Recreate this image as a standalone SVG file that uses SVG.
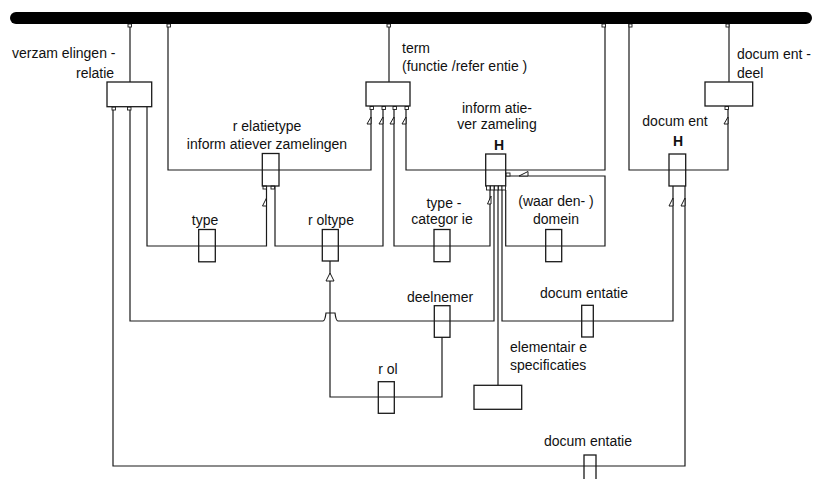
<svg xmlns="http://www.w3.org/2000/svg" width="814" height="479" viewBox="0 0 814 479">
<style>
.ln{fill:none;stroke:#1a1a1a;stroke-width:1.2}
.bx{fill:#fff;stroke:#1a1a1a;stroke-width:1.3}
.rb{fill:none;stroke:#1a1a1a;stroke-width:1.3}
.tk{fill:#fff;stroke:#1a1a1a;stroke-width:0.9}
.tri{fill:#fff;stroke:#1a1a1a;stroke-width:1}
text{font-family:"Liberation Sans",Arial,sans-serif;font-size:14px;fill:#111}
.b{font-weight:bold}
.m{text-anchor:middle}
</style>
<rect width="814" height="479" fill="#fff"/>

<g id="connectors">
  <path class="ln" d="M130,24 V82"/>
  <path class="ln" d="M168,24 V170 H371 V106"/>
  <path class="ln" d="M389,24 V82"/>
  <path class="ln" d="M605,24 V170 H406 V106"/>
  <path class="ln" d="M629,24 V170 H728 V106"/>
  <path class="ln" d="M729,24 V82"/>
  <path class="ln" d="M113,106 V466 H685 V186"/>
  <path class="ln" d="M130,106 V321 H323 Q325,321 326,313 H335 Q336,321 338,321 H494 V190"/>
  <path class="ln" d="M147,106 V246 H266.5 V186"/>
  <path class="ln" d="M275,186 V246 H383 V106"/>
  <path class="ln" d="M394,106 V246 H490 V190"/>
  <path class="ln" d="M506,176 H605 V246 H505.7 V190"/>
  <path class="ln" d="M502,190 V321 H673 V186"/>
  <path class="ln" d="M498,190 V385"/>
  <path class="ln" d="M330,261 V397 H442 V337"/>
  <!-- ticks -->
  <rect class="tk" x="128" y="24" width="3.5" height="3"/>
  <rect class="tk" x="167" y="24" width="3.5" height="3"/>
  <rect class="tk" x="387" y="24" width="3.5" height="3"/>
  <rect class="tk" x="602" y="24" width="3.5" height="3"/>
  <rect class="tk" x="629" y="24" width="3" height="3"/>
  <rect class="tk" x="726" y="24" width="3" height="3"/>
  <rect class="tk" x="112" y="107" width="3.5" height="3"/>
  <rect class="tk" x="127.5" y="107" width="3.5" height="3"/>
  <rect class="tk" x="370" y="106.5" width="3.5" height="3"/>
  <rect class="tk" x="382" y="106.5" width="3.5" height="3"/>
  <rect class="tk" x="393" y="106.5" width="3.5" height="3"/>
  <rect class="tk" x="405" y="106.5" width="3.5" height="3"/>
  <rect class="tk" x="263" y="186" width="3.5" height="3"/>
  <rect class="tk" x="271" y="186" width="3.5" height="3"/>
  <rect class="tk" x="725" y="106.5" width="3.5" height="3"/>
  <rect class="tk" x="506" y="173" width="4" height="3"/>
  <!-- triangles -->
  <polygon class="tri" points="371,117 367,124 371,124"/>
  <polygon class="tri" points="383,117 379,124 383,124"/>
  <polygon class="tri" points="394,117 390,124 394,124"/>
  <polygon class="tri" points="406,117 402,124 406,124"/>
  <polygon class="tri" points="728,117 724,124 728,124"/>
  <polygon class="tri" points="266.5,198 262.5,206 266.5,206"/>
  <polygon class="tri" points="330,273 326,281 334,281"/>
  <polygon class="tri" points="491,196 487.5,204 491,204"/>
  <polygon class="tri" points="519,176 528,171.5 528,176"/>
  <polygon class="tri" points="673,198 669,206 673,206"/>
  <polygon class="tri" points="685,198 681,206 685,206"/>
</g>

<g id="bar">
  <rect x="10" y="12" width="802" height="12" rx="6" fill="#000"/>
</g>

<g id="verzamelingen-relatie">
  <rect class="bx" x="107" y="82" width="44.7" height="24.7"/>
  <text x="12" y="58">verzam elingen -</text>
  <text x="76" y="78">relatie</text>
</g>

<g id="term">
  <rect class="bx" x="366" y="82" width="44" height="24"/>
  <text x="402" y="53">term</text>
  <text x="402" y="71">(functie /refer entie )</text>
</g>

<g id="document-deel">
  <rect class="bx" x="705" y="82" width="47.7" height="24"/>
  <text x="737" y="59">docum ent -</text>
  <text x="737" y="78">deel</text>
</g>

<g id="relatietype">
  <rect class="rb" x="262.3" y="153.5" width="16.7" height="32.5"/>
  <text class="m" x="267" y="131">r elatietype</text>
  <text class="m" x="267" y="149">inform atiever zamelingen</text>
</g>

<g id="informatieverzameling">
  <rect class="rb" x="485.7" y="154" width="20" height="32"/>
  <rect class="tk" x="486.5" y="186" width="3.5" height="4"/>
  <rect class="tk" x="490.5" y="186" width="3.5" height="4"/>
  <rect class="tk" x="494.5" y="186" width="3.5" height="4"/>
  <rect class="tk" x="498.5" y="186" width="3.5" height="4"/>
  <rect class="tk" x="502" y="186" width="3.5" height="4"/>
  <text class="m" x="497" y="113">inform atie-</text>
  <text class="m" x="497" y="129">ver zameling</text>
  <text class="m b" x="499" y="150">H</text>
</g>

<g id="document">
  <rect class="rb" x="669" y="154" width="16.7" height="32"/>
  <text class="m" x="675" y="126">docum ent</text>
  <text class="m b" x="678" y="146">H</text>
</g>

<g id="type">
  <rect class="rb" x="198.7" y="229.5" width="16.6" height="32.3"/>
  <text class="m" x="205" y="225">type</text>
</g>

<g id="roltype">
  <rect class="rb" x="322.3" y="229.5" width="16" height="31.5"/>
  <text class="m" x="331" y="225">r oltype</text>
</g>

<g id="type-categorie">
  <rect class="rb" x="434" y="229.5" width="16" height="32.2"/>
  <text class="m" x="444" y="208">type -</text>
  <text class="m" x="442" y="224">categor ie</text>
</g>

<g id="waardendomein">
  <rect class="rb" x="545.7" y="229.5" width="16" height="32.2"/>
  <text class="m" x="556" y="206">(waar den- )</text>
  <text class="m" x="556" y="224">domein</text>
</g>

<g id="deelnemer">
  <rect class="rb" x="434.3" y="305.7" width="15.7" height="31.6"/>
  <text class="m" x="440" y="302">deelnemer</text>
</g>

<g id="documentatie-1">
  <rect class="rb" x="581.7" y="305.3" width="11.6" height="31.7"/>
  <text class="m" x="584" y="298">docum entatie</text>
</g>

<g id="rol">
  <rect class="rb" x="378.3" y="381.7" width="16" height="31.6"/>
  <text class="m" x="388" y="374">r ol</text>
</g>

<g id="elementaire-specificaties">
  <rect class="bx" x="474" y="385.3" width="47.7" height="24"/>
  <text x="510" y="352">elementair e</text>
  <text x="510" y="370">specificaties</text>
</g>

<g id="documentatie-2">
  <rect class="rb" x="584" y="455" width="12" height="32"/>
  <text class="m" x="588" y="446">docum entatie</text>
</g>
</svg>
